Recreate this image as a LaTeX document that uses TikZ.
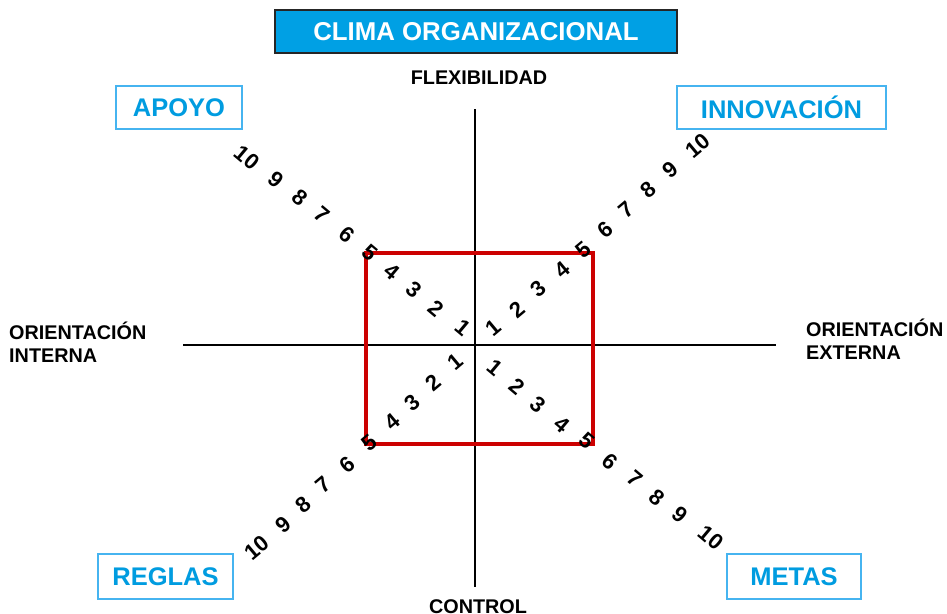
\documentclass[tikz,border=0pt]{standalone}
\usepackage{fontspec}
\setmainfont{Liberation Sans}
\definecolor{titleblue}{RGB}{0,160,228}
\definecolor{textblue}{RGB}{0,156,224}
\definecolor{boxblue}{RGB}{70,180,240}
\definecolor{redbox}{RGB}{204,0,0}
\begin{document}
\begin{tikzpicture}[x=1pt,y=-1pt,
  titlebox/.style={draw=black!85,line width=1.2pt,fill=titleblue,text=white,font=\fontsize{25.8}{28}\selectfont\bfseries,minimum height=43pt,inner sep=0pt},
  quadbox/.style={draw=boxblue,line width=1.3pt,fill=white,text=textblue,font=\fontsize{25.5}{28}\selectfont\bfseries,inner sep=0pt},
  axislabel/.style={font=\fontsize{19.8}{23.5}\selectfont\bfseries,inner sep=0pt,align=left},
  digit/.style={font=\fontsize{22}{22}\selectfont\bfseries,inner sep=0pt},
  axis/.style={line width=2pt,black}]
\useasboundingbox (0,0) rectangle (947,613);
% title
\node[titlebox,minimum width=402pt] (title) at (476,31.5) {CLIMA ORGANIZACIONAL};
% axes
\coordinate (top) at (475,109);
\coordinate (bottom) at (475,587);
\coordinate (left) at (183,345);
\coordinate (right) at (776,345);
\draw[axis] (top) -- (bottom);
\draw[axis] (left) -- (right);
% axis labels
\node[axislabel] (flex) at (479,78) {FLEXIBILIDAD};
\node[axislabel,anchor=north] (control) at (478,599) {CONTROL};
\node[axislabel,anchor=west] (intern) at (9,342) {ORIENTACIÓN\\INTERNA};
\node[axislabel,anchor=west] (extern) at (806,339) {ORIENTACIÓN\\EXTERNA};
% quadrant boxes
\node[quadbox,minimum width=126pt,minimum height=43pt] (apoyo) at (179,107.5) {APOYO};
\node[quadbox,minimum width=209pt,minimum height=43pt] (innov) at (781.5,107.5) {INNOVACIÓN};
\node[quadbox,minimum width=135pt,minimum height=45pt] (reglas) at (165.5,576.5) {REGLAS};
\node[quadbox,minimum width=134pt,minimum height=45pt] (metas) at (794,576.5) {METAS};
% red rectangle
\coordinate (rA) at (366,253);
\coordinate (rB) at (593,444);
\draw[redbox,line width=3.5pt] (rA) rectangle (rB);
% digits top-left
\foreach \n/\x/\y in {1/463/328,2/436/309,3/414/290,4/392/272,5/370/253,6/347/235,7/322/215,8/300/198,9/276/180,10/247/158}
  \node[digit,rotate=-40] (tl\n) at (\x,\y) {\n};
% digits top-right
\foreach \n/\x/\y in {1/493/328,2/517/310,3/538/289,4/562/270,5/583/250,6/605/230,7/626/210,8/648/190,9/670/170,10/698/146}
  \node[digit,rotate=40] (tr\n) at (\x,\y) {\n};
% digits bottom-left
\foreach \n/\x/\y in {1/455/362,2/433/383,3/412/403,4/392/422,5/369/443,6/347/465,7/323/485,8/303/505,9/283/525,10/257/548}
  \node[digit,rotate=40] (bl\n) at (\x,\y) {\n};
% digits bottom-right
\foreach \n/\x/\y in {1/495/368,2/517/387,3/538/405,4/562/425,5/587/441,6/610/462,7/635/479,8/657/498,9/680/515,10/711/538}
  \node[digit,rotate=-40] (br\n) at (\x,\y) {\n};
\end{tikzpicture}
\end{document}
